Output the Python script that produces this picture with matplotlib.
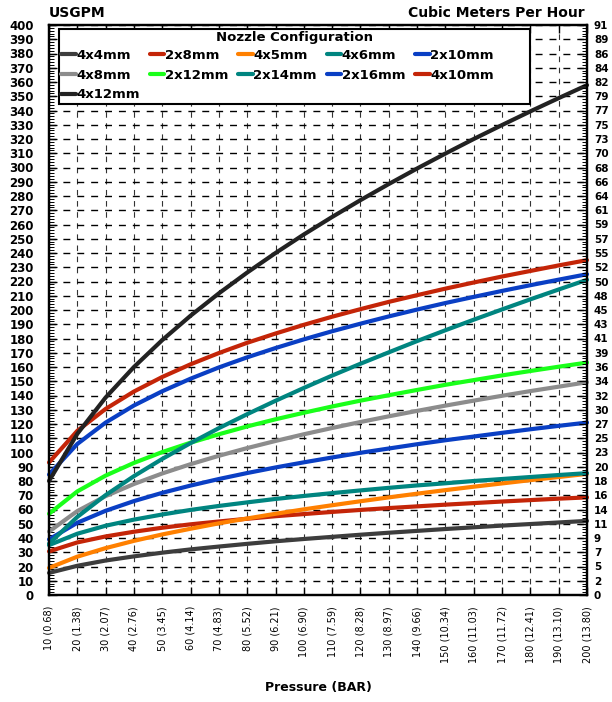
import numpy as np
import matplotlib.pyplot as plt
from matplotlib.patches import Rectangle
from matplotlib.ticker import MultipleLocator

# pressure steps along the x axis
pressure = [10, 20, 30, 40, 50, 60, 70, 80, 90, 100,
            110, 120, 130, 140, 150, 160, 170, 180, 190, 200]

# flow (USGPM) for each nozzle set
q_4x4 = [15.5, 20.5, 24.2, 27.1, 29.7, 32.0, 34.0, 35.9, 37.7, 39.3,
         40.8, 42.3, 43.7, 45.0, 46.3, 47.5, 48.7, 49.8, 50.9, 52.0]
q_2x8 = [30.6, 36.9, 41.1, 44.4, 47.2, 49.6, 51.6, 53.5, 55.3, 56.8,
         58.3, 59.7, 61.0, 62.2, 63.4, 64.5, 65.6, 66.6, 67.6, 68.5]
q_4x5 = [19.0, 26.9, 32.9, 38.0, 42.5, 46.5, 50.3, 53.7, 57.0, 60.1,
         63.0, 65.8, 68.5, 71.1, 73.6, 76.0, 78.3, 80.6, 82.8, 85.0]
q_4x6 = [35.0, 43.0, 48.6, 52.9, 56.5, 59.7, 62.5, 65.0, 67.4, 69.5,
         71.5, 73.4, 75.2, 76.9, 78.4, 80.0, 81.4, 82.8, 84.2, 85.5]
q_2x10 = [39.0, 50.7, 59.1, 65.9, 71.7, 76.8, 81.4, 85.6, 89.5, 93.1,
          96.5, 99.8, 102.8, 105.8, 108.6, 111.2, 113.8, 116.3, 118.7, 121.0]
q_4x8 = [44.5, 58.9, 69.4, 77.9, 85.3, 91.8, 97.7, 103.1, 108.1, 112.8,
         117.2, 121.4, 125.4, 129.2, 132.9, 136.4, 139.8, 143.1, 146.2, 149.3]
q_2x12 = [57.0, 72.7, 83.8, 92.7, 100.3, 106.9, 112.8, 118.3, 123.3, 127.9,
          132.3, 136.4, 140.2, 143.9, 147.5, 150.8, 154.1, 157.2, 160.2, 163.1]
q_2x14 = [36.0, 54.8, 70.1, 83.4, 95.5, 106.6, 117.1, 126.9, 136.3, 145.3,
          154.0, 162.3, 170.3, 178.2, 185.8, 193.2, 200.4, 207.5, 214.4, 221.2]
q_2x16 = [84.5, 106.0, 121.0, 133.0, 143.0, 151.8, 159.7, 166.8, 173.3, 179.4,
          185.1, 190.4, 195.5, 200.3, 204.9, 209.2, 213.4, 217.4, 221.3, 225.1]
q_4x10 = [93.0, 115.2, 130.6, 142.8, 153.0, 161.9, 169.8, 177.0, 183.5, 189.6,
          195.3, 200.6, 205.7, 210.4, 215.0, 219.3, 223.5, 227.4, 231.3, 235.0]
q_4x12 = [80.0, 113.1, 138.6, 160.0, 178.9, 196.0, 211.7, 226.3, 240.0, 253.0,
          265.3, 277.1, 288.4, 299.3, 309.8, 320.0, 329.8, 339.4, 348.7, 357.8]

x_labels = ["10 (0.68)", "20 (1.38)", "30 (2.07)", "40 (2.76)", "50 (3.45)",
            "60 (4.14)", "70 (4.83)", "80 (5.52)", "90 (6.21)", "100 (6.90)",
            "110 (7.59)", "120 (8.28)", "130 (8.97)", "140 (9.66)", "150 (10.34)",
            "160 (11.03)", "170 (11.72)", "180 (12.41)", "190 (13.10)", "200 (13.80)"]

gpm_ticks = list(range(0, 401, 10))
cmh_labels = [0, 2, 5, 7, 9, 11, 14, 16, 18, 20, 23, 25, 27, 30, 32, 34, 36, 39, 41, 43,
              45, 48, 50, 52, 55, 57, 59, 61, 64, 66, 68, 70, 73, 75, 77, 79, 82, 84, 86, 89, 91]

series = [
    ("4x4mm", q_4x4, "#3d3d3d"),
    ("2x8mm", q_2x8, "#c42508"),
    ("4x5mm", q_4x5, "#ff8000"),
    ("4x6mm", q_4x6, "#008580"),
    ("2x10mm", q_2x10, "#0a3fc4"),
    ("4x8mm", q_4x8, "#8c8c8c"),
    ("2x12mm", q_2x12, "#1aff1a"),
    ("2x14mm", q_2x14, "#008580"),
    ("2x16mm", q_2x16, "#0a3fc4"),
    ("4x10mm", q_4x10, "#c42508"),
    ("4x12mm", q_4x12, "#222222"),
]

plt.rcParams['font.family'] = ['DejaVu Sans']

fig = plt.figure(figsize=(6.12, 7.02), dpi=100)
W, H = 612, 702
ax = fig.add_axes([49 / W, 1 - 595 / H, 538 / W, 570 / H])

lines = {}
for name, q, col in series:
    ln, = ax.plot(pressure, q, color=col, lw=3.0, solid_capstyle='round',
                  clip_on=False, zorder=3, label=name)
    lines[name] = ln

ax.set_xlim(10, 200)
ax.set_ylim(0, 400)

ax.set_xticks(pressure)
ax.set_xticklabels(x_labels, rotation=90, fontsize=7)
ax.set_yticks(gpm_ticks)
ax.set_yticklabels([str(v) for v in gpm_ticks], fontsize=8.5, fontweight='bold')
ax.yaxis.set_minor_locator(MultipleLocator(2))

ax.tick_params(axis='x', which='major', direction='in', length=6, width=1,
               top=True, bottom=True, pad=8)
ax.tick_params(axis='y', which='major', direction='in', length=6, width=0.9,
               left=True, right=False, pad=11)
ax.tick_params(axis='y', which='minor', direction='in', length=3.5, width=0.7,
               left=True, right=False)

ax.yaxis.grid(True, color='black', lw=1.0, ls=(0, (5, 5)))
ax.xaxis.grid(True, color='#333333', lw=0.8, ls=(0, (5, 5)))
ax.set_axisbelow(True)
for s in ax.spines.values():
    s.set_linewidth(1.6)

ax2 = ax.twinx()
ax2.set_ylim(0, 400)
ax2.set_yticks(gpm_ticks)
ax2.set_yticklabels([str(v) for v in cmh_labels], fontsize=7.5, fontweight='bold')
ax2.yaxis.set_minor_locator(MultipleLocator(2))
ax2.tick_params(axis='y', which='major', direction='in', length=6, width=0.9, pad=5)
ax2.tick_params(axis='y', which='minor', direction='in', length=3.5, width=0.7)
for s in ax2.spines.values():
    s.set_linewidth(1.6)

fig.text(49 / W, 1 - 13 / H, "USGPM", ha='left', va='center',
         fontsize=10, fontweight='bold')
fig.text(585 / W, 1 - 13 / H, "Cubic Meters Per Hour", ha='right', va='center',
         fontsize=10, fontweight='bold')
fig.text(318 / W, 1 - 688 / H, "Pressure (BAR)", ha='center', va='center',
         fontsize=9, fontweight='bold')

# legend box drawn separately so it can be wider than its content
fig.add_artist(Rectangle((59 / W, 1 - 104 / H), 471 / W, 75 / H,
                         transform=fig.transFigure, facecolor='white',
                         edgecolor='black', lw=1.5, zorder=4))
fig.text(295 / W, 1 - 37 / H, "Nozzle Configuration", ha='center', va='center',
         fontsize=9.5, fontweight='bold', zorder=6)

order = ["4x4mm", "4x8mm", "4x12mm", "2x8mm", "2x12mm", "4x5mm", "2x14mm",
         "4x6mm", "2x16mm", "2x10mm", "4x10mm"]
leg = fig.legend(handles=[lines[n] for n in order], ncol=5, loc='upper left',
                 bbox_to_anchor=(61 / W, 1 - 49 / H), bbox_transform=fig.transFigure,
                 frameon=False, prop=dict(weight='bold', size=9.5),
                 handlelength=1.1, handletextpad=0.05, columnspacing=0.75,
                 labelspacing=0.5, borderaxespad=0, borderpad=0)
leg.set_zorder(5)

fig.savefig("out.png", dpi=100)
